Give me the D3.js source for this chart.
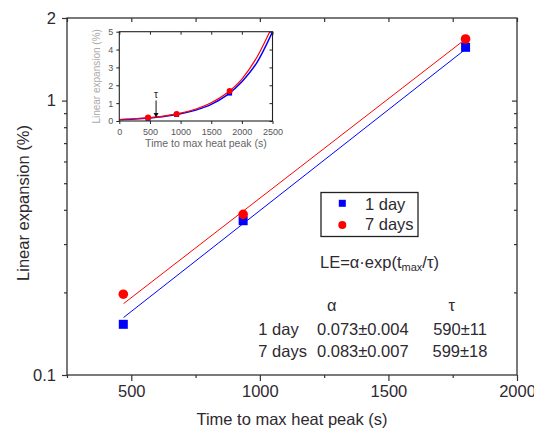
<!DOCTYPE html>
<html>
<head>
<meta charset="utf-8">
<script src="https://cdn.jsdelivr.net/npm/d3@7"></script>
<style>
	body { margin: 0; background: #fff; }
	svg { display: block; font-family: "Liberation Sans", Arial, sans-serif; }
</style>
</head>
<body>
<svg id="chart" width="534" height="432"></svg>
<script>
var times = [469, 935, 1800];
var oneDay = [0.153, 0.365, 1.564];
var sevenDays = [0.197, 0.385, 1.677];

// fitted lines, end points as drawn
var fitOneDay = [[470, 0.162], [1800, 1.54]];
var fitSevenDays = [[470, 0.182], [1800, 1.676]];

// inset curves
var insetOneDay = [[0, 0.073], [250, 0.11], [500, 0.17], [750, 0.26], [1000, 0.40], [1250, 0.61],
	[1500, 0.93], [1750, 1.43], [2000, 2.2], [2250, 3.3], [2500, 5.0]];
var insetSevenDays = [[0, 0.083], [250, 0.127], [500, 0.19], [750, 0.29], [1000, 0.44], [1250, 0.67],
	[1500, 1.02], [1750, 1.55], [2000, 2.35], [2250, 3.6], [2455, 5.0]];
var tauMark = 600;

// ticks
var xMajor = [500, 1000, 1500, 2000];
var xMinor = [250, 750, 1250, 1750];
var yMajor = [0.1, 1, 2];
var yMinor = [0.2, 0.3, 0.4, 0.5, 0.6, 0.7, 0.8, 0.9];
var insetXTicks = [0, 500, 1000, 1500, 2000, 2500];
var insetYTicks = [0, 1, 2, 3, 4, 5];

// fit table
var tableRows = ['1 day', '7 days'];
var tableAlpha = ['0.073\u00b10.004', '0.083\u00b10.007'];
var tableTau = ['590\u00b111', '599\u00b118'];

var BLUE = '#0000ff', RED = '#ff0000', INK = '#2e2a30';
var FONT = 16.5;

var svg = d3.select('#chart');

var mLeft = 67, mRight = 517, mTop = 18, mBottom = 375;

var x = d3.scaleLinear().domain([250, 2000]).range([mLeft, mRight]);
var y = d3.scaleLog().domain([0.1, 2]).range([mBottom, mTop]);

function styleAxis(g, size, color) {
	g.select('.domain').remove();
	g.selectAll('line').attr('stroke', '#333').attr('stroke-width', 1.2);
	g.selectAll('text').attr('fill', color || INK).attr('font-size', size);
	g.attr('font-family', null).attr('font-size', null);
}

// main axes
svg.append('g').attr('transform', 'translate(0,' + mBottom + ')')
	.call(d3.axisBottom(x).tickValues(xMajor).tickSize(6).tickPadding(4).tickFormat(d3.format('d')))
	.call(styleAxis, FONT);
svg.append('g').attr('transform', 'translate(0,' + mBottom + ')')
	.call(d3.axisBottom(x).tickValues(xMinor).tickSize(3).tickFormat(''))
	.call(styleAxis, FONT);
svg.append('g').attr('transform', 'translate(0,' + mTop + ')')
	.call(d3.axisTop(x).tickValues(xMajor.concat(xMinor)).tickSizeInner(-4).tickFormat(''))
	.call(styleAxis, FONT);

svg.append('g').attr('transform', 'translate(' + mLeft + ',0)')
	.call(d3.axisLeft(y).tickValues(yMajor).tickSize(5).tickPadding(6).tickFormat(d3.format('~g')))
	.call(styleAxis, FONT);
svg.append('g').attr('transform', 'translate(' + mLeft + ',0)')
	.call(d3.axisLeft(y).tickValues(yMinor).tickSize(3).tickFormat(''))
	.call(styleAxis, FONT);
svg.append('g').attr('transform', 'translate(' + mRight + ',0)')
	.call(d3.axisRight(y).tickValues([1]).tickSize(-5).tickFormat(''))
	.call(styleAxis, FONT);
svg.append('g').attr('transform', 'translate(' + mRight + ',0)')
	.call(d3.axisRight(y).tickValues(yMinor).tickSize(-3).tickFormat(''))
	.call(styleAxis, FONT);

svg.append('rect')
	.attr('x', mLeft).attr('y', mTop)
	.attr('width', mRight - mLeft).attr('height', mBottom - mTop)
	.attr('fill', 'none').attr('stroke', '#333').attr('stroke-width', 1.3);

// axis titles
svg.append('text')
	.attr('x', (mLeft + mRight) / 2).attr('y', 425)
	.attr('text-anchor', 'middle').attr('font-size', FONT).attr('fill', INK)
	.text('Time to max heat peak (s)');
svg.append('text')
	.attr('transform', 'translate(29,203) rotate(-90)')
	.attr('text-anchor', 'middle').attr('font-size', FONT).attr('fill', INK)
	.text('Linear expansion (%)');

// fit lines
var fitLine = d3.line().x(function (d) { return x(d[0]); }).y(function (d) { return y(d[1]); });
svg.append('path').datum(fitOneDay).attr('d', fitLine)
	.attr('fill', 'none').attr('stroke', BLUE).attr('stroke-width', 1);
svg.append('path').datum(fitSevenDays).attr('d', fitLine)
	.attr('fill', 'none').attr('stroke', RED).attr('stroke-width', 1);

// points
svg.selectAll('rect.one').data(times).enter().append('rect')
	.attr('class', 'one')
	.attr('x', function (d) { return x(d) - 4.5; })
	.attr('y', function (d, i) { return y(oneDay[i]) - 4.5; })
	.attr('width', 9).attr('height', 9)
	.attr('fill', BLUE);
svg.selectAll('circle.seven').data(times).enter().append('circle')
	.attr('class', 'seven')
	.attr('cx', function (d) { return x(d); })
	.attr('cy', function (d, i) { return y(sevenDays[i]); })
	.attr('r', 4.8)
	.attr('fill', RED);

// legend
var legend = svg.append('g');
legend.append('rect')
	.attr('x', 321).attr('y', 192.5).attr('width', 97).attr('height', 44)
	.attr('fill', '#fff').attr('stroke', '#222').attr('stroke-width', 1.3);
legend.append('rect').attr('x', 338.8).attr('y', 199.8).attr('width', 7).attr('height', 7).attr('fill', BLUE);
legend.append('circle').attr('cx', 342.3).attr('cy', 225).attr('r', 4).attr('fill', RED);
legend.append('text').attr('x', 365).attr('y', 209.5).attr('font-size', FONT).attr('fill', INK).text('1 day');
legend.append('text').attr('x', 365).attr('y', 229.5).attr('font-size', FONT).attr('fill', INK).text('7 days');

// equation
var eq = svg.append('text').attr('x', 320).attr('y', 267.5).attr('font-size', FONT).attr('fill', INK);
eq.append('tspan').text('LE=\u03b1\u00b7exp(t');
eq.append('tspan').attr('font-size', 11).attr('dy', 3.5).text('max');
eq.append('tspan').attr('dy', -3.5).text('/\u03c4)');

// parameter table
svg.append('text').attr('x', 331.7).attr('y', 311).attr('text-anchor', 'middle')
	.attr('font-size', FONT).attr('fill', INK).text('\u03b1');
svg.append('text').attr('x', 451.7).attr('y', 311).attr('text-anchor', 'middle')
	.attr('font-size', FONT).attr('fill', INK).text('\u03c4');
tableRows.forEach(function (row, i) {
	var yy = 335 + i * 21.5;
	svg.append('text').attr('x', 258.3).attr('y', yy).attr('font-size', FONT).attr('fill', INK).text(row);
	svg.append('text').attr('x', 317).attr('y', yy).attr('font-size', FONT).attr('fill', INK).text(tableAlpha[i]);
	svg.append('text').attr('x', 460).attr('y', yy).attr('text-anchor', 'middle')
		.attr('font-size', FONT).attr('fill', INK).text(tableTau[i]);
});

// ---- inset ----
var iLeft = 119.3, iRight = 272.5, iTop = 31.7, iBottom = 121;
var ix = d3.scaleLinear().domain([0, 2500]).range([iLeft, iRight]);
var iy = d3.scaleLinear().domain([0, 5]).range([iBottom, iTop]);

svg.append('rect')
	.attr('x', iLeft).attr('y', iTop).attr('width', iRight - iLeft).attr('height', iBottom - iTop)
	.attr('fill', '#fff');

var clip = svg.append('clipPath').attr('id', 'insetClip');
clip.append('rect')
	.attr('x', iLeft).attr('y', iTop).attr('width', iRight - iLeft).attr('height', iBottom - iTop);

function styleInset(g) {
	g.select('.domain').remove();
	g.selectAll('line').attr('stroke', '#222').attr('stroke-width', 1);
	g.selectAll('text').attr('fill', '#555').attr('font-size', 9);
	g.attr('font-family', null).attr('font-size', null);
}

svg.append('g').attr('transform', 'translate(0,' + iBottom + ')')
	.call(d3.axisBottom(ix).tickValues(insetXTicks).tickSize(3).tickPadding(4.5).tickFormat(d3.format('d')))
	.call(styleInset);
svg.append('g').attr('transform', 'translate(0,' + iTop + ')')
	.call(d3.axisTop(ix).tickValues(insetXTicks).tickSize(-3).tickFormat(''))
	.call(styleInset);
svg.append('g').attr('transform', 'translate(' + iLeft + ',0)')
	.call(d3.axisLeft(iy).tickValues(insetYTicks).tickSize(3).tickPadding(3).tickFormat(d3.format('d')))
	.call(styleInset);
svg.append('g').attr('transform', 'translate(' + iRight + ',0)')
	.call(d3.axisRight(iy).tickValues(insetYTicks).tickSize(-3).tickFormat(''))
	.call(styleInset);

var insetLine = d3.line()
	.x(function (d) { return ix(d[0]); })
	.y(function (d) { return iy(d[1]); })
	.curve(d3.curveMonotoneX);

var curves = svg.append('g').attr('clip-path', 'url(#insetClip)');
curves.append('path').datum(insetOneDay).attr('d', insetLine)
	.attr('fill', 'none').attr('stroke', BLUE).attr('stroke-width', 1.5);
curves.append('path').datum(insetSevenDays).attr('d', insetLine)
	.attr('fill', 'none').attr('stroke', RED).attr('stroke-width', 1.2);

svg.selectAll('rect.ione').data(times).enter().append('rect')
	.attr('class', 'ione')
	.attr('x', function (d) { return ix(d) - 2.5; })
	.attr('y', function (d, i) { return iy(oneDay[i]) - 2.5; })
	.attr('width', 5).attr('height', 5)
	.attr('fill', BLUE);
svg.selectAll('circle.iseven').data(times).enter().append('circle')
	.attr('class', 'iseven')
	.attr('cx', function (d) { return ix(d); })
	.attr('cy', function (d, i) { return iy(sevenDays[i]); })
	.attr('r', 3)
	.attr('fill', RED);

svg.append('rect')
	.attr('x', iLeft).attr('y', iTop).attr('width', iRight - iLeft).attr('height', iBottom - iTop)
	.attr('fill', 'none').attr('stroke', '#222').attr('stroke-width', 1.1);

// tau arrow
svg.append('text').attr('x', ix(tauMark)).attr('y', iy(1.28))
	.attr('text-anchor', 'middle').attr('font-size', 10).attr('fill', '#222').text('\u03c4');
svg.append('line')
	.attr('x1', ix(tauMark)).attr('x2', ix(tauMark))
	.attr('y1', iy(1.15)).attr('y2', iy(0.3))
	.attr('stroke', '#111').attr('stroke-width', 1);
svg.append('path')
	.attr('d', 'M' + (ix(tauMark) - 2.5) + ',' + iy(0.45) + 'L' + ix(tauMark) + ',' + iy(0.2) + 'L' + (ix(tauMark) + 2.5) + ',' + iy(0.45) + 'Z')
	.attr('fill', '#111');

// inset titles
svg.append('text')
	.attr('x', (iLeft + iRight) / 2 + 10).attr('y', 147)
	.attr('text-anchor', 'middle').attr('font-size', 10.5).attr('fill', '#666')
	.text('Time to max heat peak (s)');
svg.append('text')
	.attr('transform', 'translate(100,' + ((iTop + iBottom) / 2) + ') rotate(-90)')
	.attr('text-anchor', 'middle').attr('font-size', 10).attr('fill', '#aaa')
	.text('Linear expansion (%)');
</script>
</body>
</html>
